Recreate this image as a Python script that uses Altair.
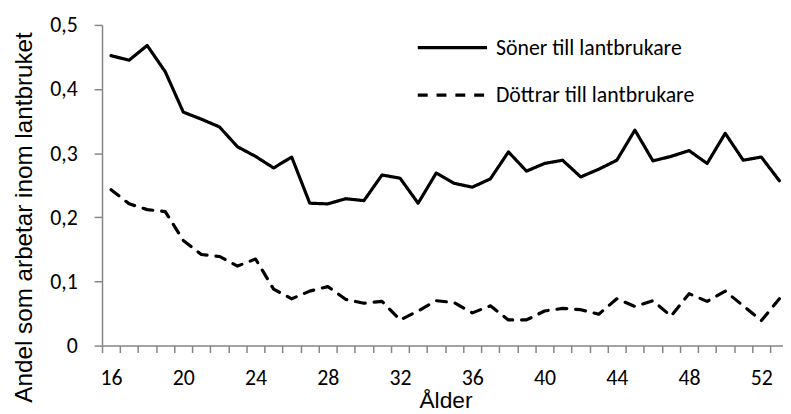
import altair as alt
import pandas as pd

ages = list(range(16, 54))
soner = [0.452, 0.445, 0.468, 0.427, 0.364, 0.353, 0.341, 0.310, 0.295, 0.277,
         0.294, 0.222, 0.221, 0.229, 0.226, 0.266, 0.261, 0.222, 0.269, 0.253,
         0.247, 0.260, 0.302, 0.272, 0.284, 0.289, 0.263, 0.275, 0.289, 0.336,
         0.288, 0.295, 0.304, 0.284, 0.331, 0.289, 0.294, 0.257]
dottrar = [0.243, 0.221, 0.212, 0.209, 0.164, 0.142, 0.139, 0.124, 0.135, 0.088,
           0.073, 0.085, 0.092, 0.072, 0.066, 0.069, 0.040, 0.054, 0.070, 0.067,
           0.051, 0.062, 0.040, 0.040, 0.054, 0.058, 0.056, 0.049, 0.073, 0.061,
           0.070, 0.046, 0.081, 0.069, 0.085, 0.062, 0.039, 0.073]
series_names = ["Söner till lantbrukare", "Döttrar till lantbrukare"]
y_ticks = [0, 0.1, 0.2, 0.3, 0.4, 0.5]
x_ticks = [a - 0.5 for a in range(16, 55)]

rows = []
for a, v in zip(ages, soner):
    rows.append({"age": a, "value": v, "series": series_names[0]})
for a, v in zip(ages, dottrar):
    rows.append({"age": a, "value": v, "series": series_names[1]})
df = pd.DataFrame(rows)

label_font = "Carlito, Lato, sans-serif"
title_font = "Liberation Sans, Arial, sans-serif"
gray = "#868686"

chart = alt.Chart(df).mark_line(strokeWidth=3.2, strokeCap="round", strokeJoin="round", color="black").encode(
    x=alt.X("age:Q",
            scale=alt.Scale(domain=[15.5, 53.2], nice=False, zero=False),
            axis=alt.Axis(values=x_ticks, title="Ålder", grid=False,
                          labelExpr="(datum.value + 0.5) % 4 == 0 ? format(datum.value + 0.5, 'd') : ''",
                          labelOffset=9.1, labelFlush=False, labelOverlap=False,
                          labelFont=label_font, labelFontSize=22, labelColor="black",
                          labelPadding=15, tickSize=7, tickColor=gray, domainColor=gray,
                          domainWidth=1.5, tickWidth=1.5,
                          titleFont=title_font, titleFontSize=23, titleFontWeight="normal",
                          titleColor="black", titleX=347, titleY=63, titleBaseline="alphabetic",
                          titleAnchor="start", titleAlign="center")),
    y=alt.Y("value:Q",
            scale=alt.Scale(domain=[0, 0.5], nice=False),
            axis=alt.Axis(values=y_ticks, title="Andel som arbetar inom lantbruket", grid=False,
                          labelExpr="datum.value == 0 ? '0' : replace(format(datum.value, '.1f'), '.', ',')",
                          labelFont=label_font, labelFontSize=22, labelColor="black",
                          labelPadding=17, tickSize=8, tickColor=gray, domainColor=gray,
                          domainWidth=1.5, tickWidth=1.5,
                          titleFont=title_font, titleFontSize=24.5, titleFontWeight="normal",
                          titleColor="black", titleAngle=-90, titleX=-71, titleY=194,
                          titleBaseline="alphabetic", titleAlign="center", titleAnchor="start",
                          titleLimit=0)),
    strokeDash=alt.StrokeDash("series:N",
                              scale=alt.Scale(domain=series_names, range=[[1, 0], [10, 9]]),
                              legend=alt.Legend(title=None, orient="none", legendX=317, legendY=-14,
                                                symbolType="stroke", symbolSize=4900,
                                                symbolStrokeWidth=3.2, symbolStrokeColor="black",
                                                labelFont=label_font, labelFontSize=22,
                                                labelColor="black", labelOffset=7, labelLimit=0,
                                                rowPadding=0)),
).properties(
    width=688, height=324,
    autosize=alt.AutoSizeParams(type="none"),
    padding={"left": 95, "top": 15, "right": 0, "bottom": 66},
).configure_view(stroke=None)

chart.save("out.html", embed_options={"renderer": "svg", "actions": False})
